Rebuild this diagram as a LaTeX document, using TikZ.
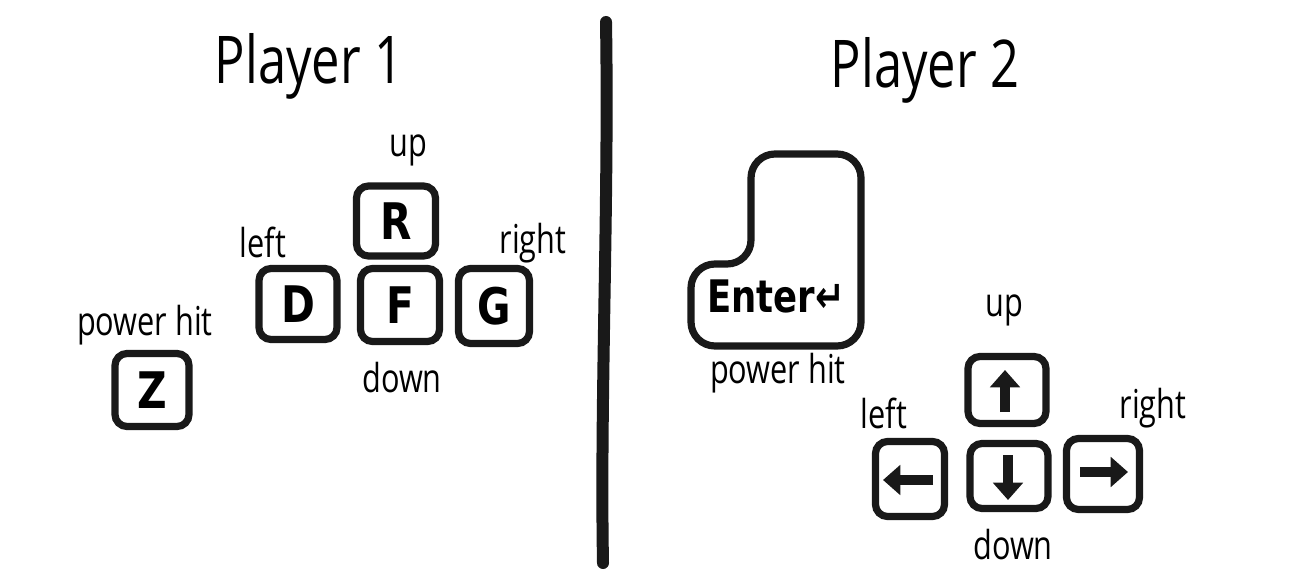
\documentclass[tikz,border=0pt]{standalone}
\usepackage{fontspec}
\setmainfont{Open Sans}
\newfontfamily\keyfont{DejaVu Sans}
\usetikzlibrary{arrows.meta,calc}
\tikzset{
  keybox/.style={draw=black!90, line width=5.4pt, rounded corners=9pt, inner sep=0pt,
    font=\keyfont\bfseries\fontsize{36}{38}\selectfont},
  ksize/.style 2 args={minimum width=0.75pt*#1, minimum height=0.75pt*#2},
  lbl/.style={inner sep=0pt, font=\fontsize{23}{25}\selectfont},
  ttl/.style={inner sep=0pt, font=\fontsize{38}{40}\selectfont},
  keyarrow/.style={line width=7.5pt, draw=black!90, -{Triangle[length=13pt,width=22pt]}},
  divider/.style={line width=9pt, draw=black!90, line cap=round}
}
\newcommand{\tall}[1]{\scalebox{1}[1.3]{#1}}
\begin{document}
\begin{tikzpicture}[x=0.75pt,y=-0.75pt]
\useasboundingbox (0,0) rectangle (1293,581);
% titles
\node[ttl] (t1) at (309,66) {\tall{Player 1}};
\node[ttl] (t2) at (925,70) {\tall{Player 2}};
% divider
\coordinate (dtop) at (606,22);
\coordinate (dbot) at (603,563);
\draw[divider] (dtop) .. controls (609,200) and (600,400) .. (dbot);
% Player 1 keys
\node[keybox, ksize={79}{70}] (kR) at (396,221) {\scalebox{0.85}[1.05]{R}};
\node[keybox, ksize={78}{71}] (kD) at (298,304) {\scalebox{0.85}[1.05]{D}};
\node[keybox, ksize={79}{73}] (kF) at (400,305) {\scalebox{0.85}[1.05]{F}};
\node[keybox, ksize={71}{75}] (kG) at (494,306) {\scalebox{0.85}[1.05]{G}};
\node[keybox, ksize={74}{73}] (kZ) at (152,390) {\scalebox{0.85}[1.05]{Z}};
% Player 1 labels
\node[lbl] (l1up) at (408,150) {\tall{up}};
\node[lbl] (l1left) at (263,242) {\tall{left}};
\node[lbl] (l1right) at (533,243) {\tall{right}};
\node[lbl] (l1down) at (402,378) {\tall{down}};
\node[lbl] (l1pow) at (145,325) {\tall{power hit}};
% Player 2 Enter key
\draw[draw=black!90, line width=5.4pt, rounded corners=18pt]
  (751,154) -- (861,154) -- (861,346) -- (691,346) -- (691,264) -- (751,264) -- cycle;
\node[inner sep=0pt, font=\keyfont\bfseries\fontsize{28}{30}\selectfont] (kEnter) at (776,296) {\scalebox{0.95}[1.2]{Enter↵}};
% arrow keys
\node[keybox, ksize={78}{67}] (kUp) at (1007,390) {};
\node[keybox, ksize={69}{75}] (kLeft) at (910,479) {};
\node[keybox, ksize={78}{65}] (kDown) at (1009,476) {};
\node[keybox, ksize={73}{71}] (kRight) at (1103,474) {};
\draw[keyarrow] ($(kUp.center)+(-2,22)$) -- ($(kUp.center)+(-2,-20)$);
\draw[keyarrow] ($(kLeft.center)+(23,1)$) -- ($(kLeft.center)+(-27,1)$);
\draw[keyarrow] ($(kDown.center)+(-1,-21)$) -- ($(kDown.center)+(-1,24)$);
\draw[keyarrow] ($(kRight.center)+(-23,-2)$) -- ($(kRight.center)+(25,-2)$);
% Player 2 labels
\node[lbl] (l2pow) at (778,373) {\tall{power hit}};
\node[lbl] (l2up) at (1004,310) {\tall{up}};
\node[lbl] (l2left) at (884,413) {\tall{left}};
\node[lbl] (l2right) at (1153,408) {\tall{right}};
\node[lbl] (l2down) at (1013,545) {\tall{down}};
\end{tikzpicture}
\end{document}
